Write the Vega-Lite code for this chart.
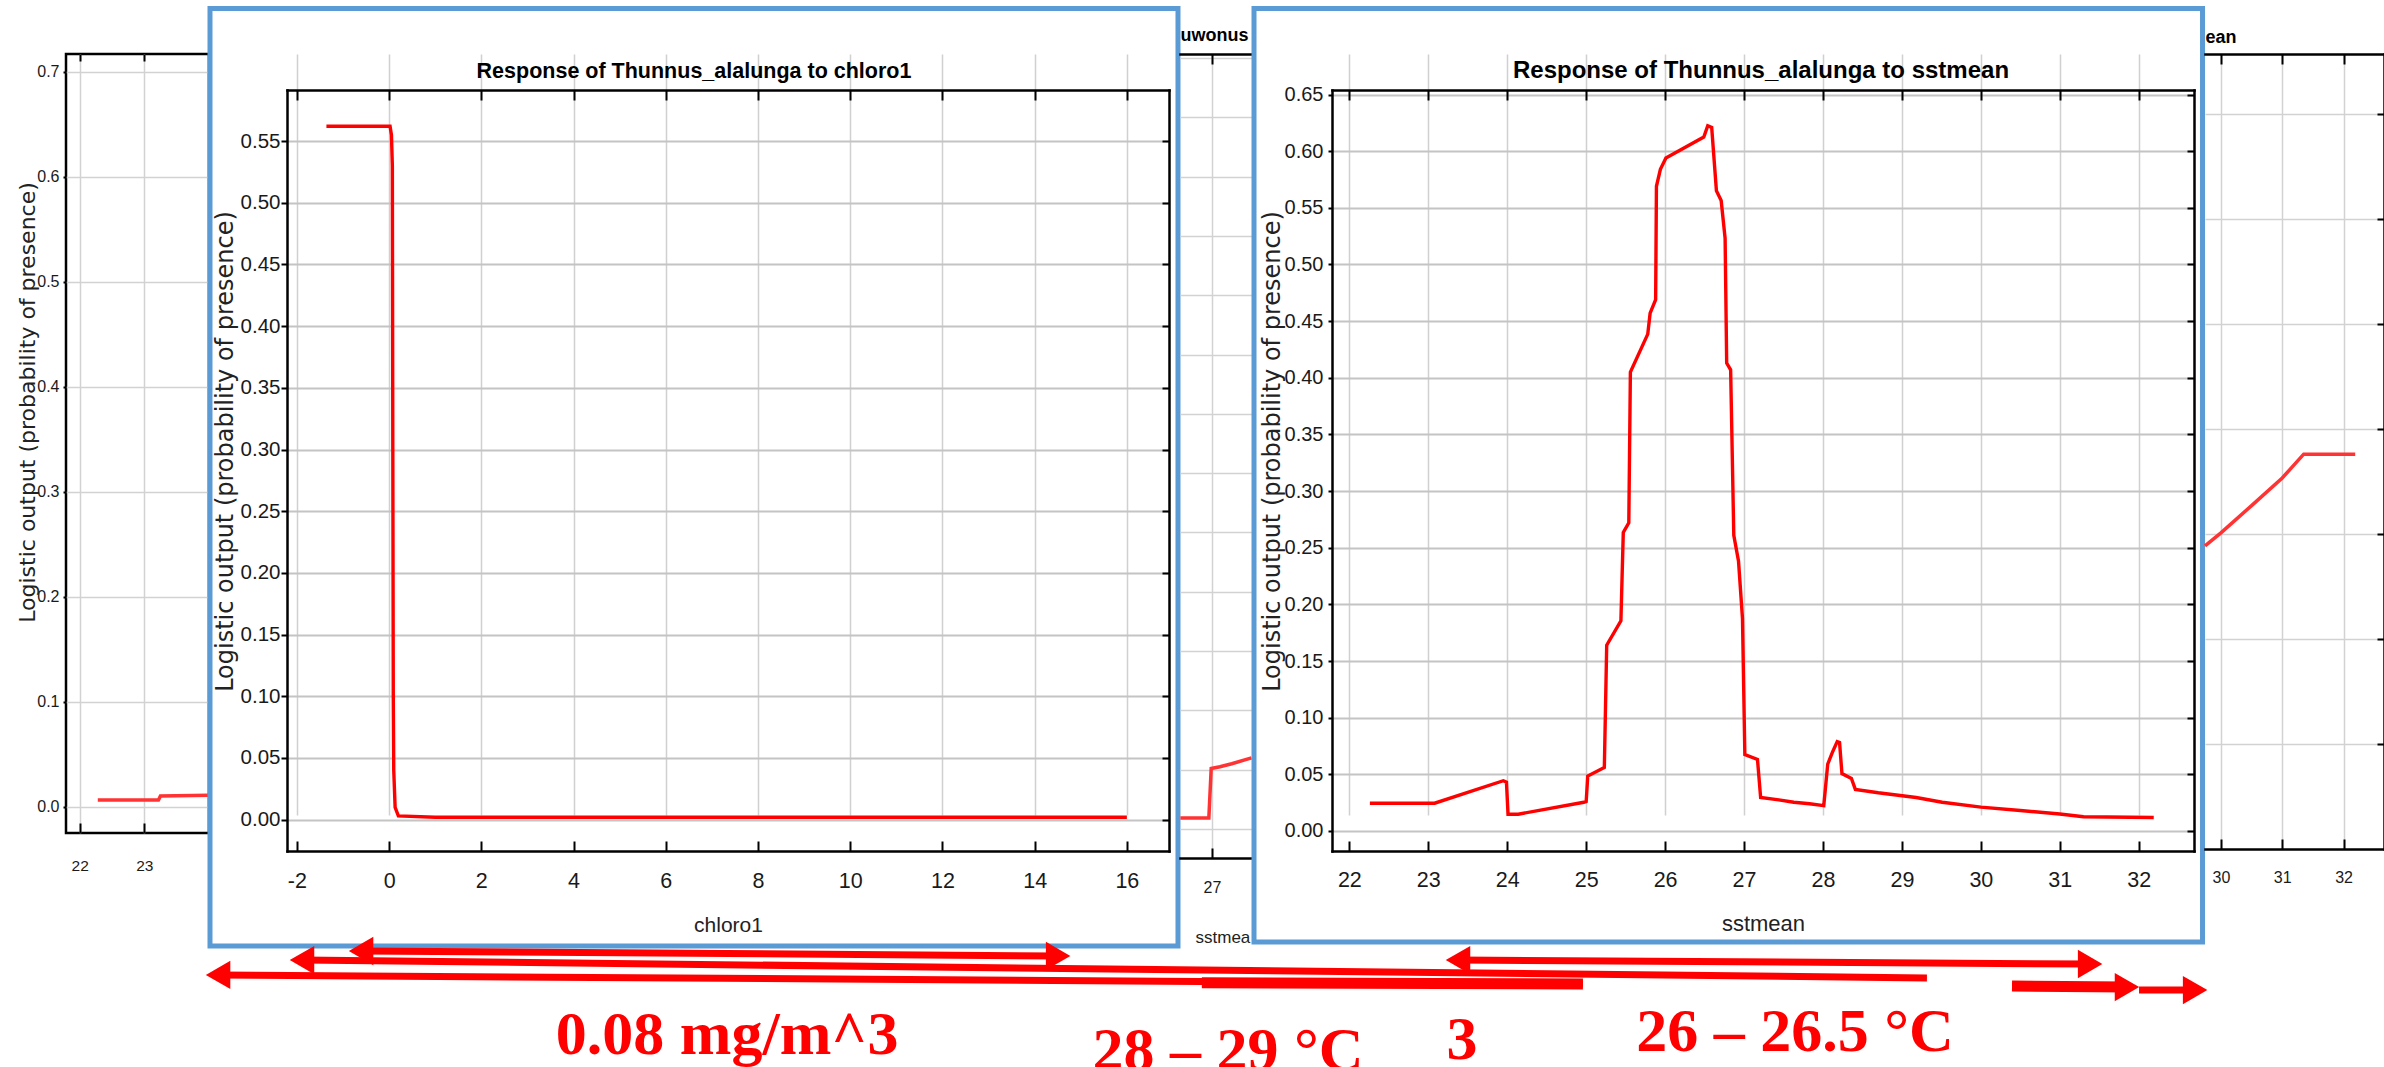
{
  "$schema": "https://vega.github.io/schema/vega-lite/v6.json",
  "background": "white",
  "padding": {"left": 14, "top": 5, "right": 0, "bottom": 0},
  "columns": 9,
  "align": "each",
  "bounds": "flush",
  "spacing": {"row": 73, "column": 0},
  "config": {
    "view": {"stroke": "#000000", "strokeWidth": 2.5},
    "axis": {
      "labelColor": "#1a1a1a", "titleColor": "#222222", "tickColor": "#000000", "tickWidth": 2,
      "domainColor": "#000000", "domainWidth": 2.5, "domainCap": "square",
      "labelFont": "Liberation Sans", "titleFont": "Liberation Sans",
      "labelOverlap": false, "labelFlush": false, "gridColor": "#cccccc"
    }
  },
  "datasets": {
    "leftBG": [
      {"x": 22.28, "y": 0.0067}, {"x": 23.22, "y": 0.0067}, {"x": 23.25, "y": 0.0105}, {"x": 24.0, "y": 0.0112}
    ],
    "chloro": [
      {"x": -1.36, "y": 0.562}, {"x": 0.02, "y": 0.562}, {"x": 0.05, "y": 0.555}, {"x": 0.07, "y": 0.53},
      {"x": 0.08, "y": 0.3}, {"x": 0.09, "y": 0.1}, {"x": 0.1, "y": 0.04}, {"x": 0.13, "y": 0.01},
      {"x": 0.2, "y": 0.003}, {"x": 1, "y": 0.002}, {"x": 16, "y": 0.002}
    ],
    "middleBG": [
      {"x": 26.6, "y": 0.0093}, {"x": 26.96, "y": 0.0093}, {"x": 26.99, "y": 0.051}, {"x": 27.1, "y": 0.0525},
      {"x": 27.25, "y": 0.055}, {"x": 27.5, "y": 0.0599}
    ],
    "sst": [
      {"x": 22.26, "y": 0.0245}, {"x": 23.08, "y": 0.0245}, {"x": 23.95, "y": 0.0443}, {"x": 23.99, "y": 0.043},
      {"x": 24.01, "y": 0.0148}, {"x": 24.14, "y": 0.0148}, {"x": 24.97, "y": 0.0253}, {"x": 25.0, "y": 0.026},
      {"x": 25.02, "y": 0.0485}, {"x": 25.23, "y": 0.056}, {"x": 25.26, "y": 0.164}, {"x": 25.44, "y": 0.1855},
      {"x": 25.47, "y": 0.2635}, {"x": 25.54, "y": 0.272}, {"x": 25.56, "y": 0.405}, {"x": 25.78, "y": 0.4385},
      {"x": 25.81, "y": 0.457}, {"x": 25.88, "y": 0.469}, {"x": 25.89, "y": 0.569}, {"x": 25.94, "y": 0.584},
      {"x": 26.01, "y": 0.594}, {"x": 26.49, "y": 0.6125}, {"x": 26.54, "y": 0.6225}, {"x": 26.59, "y": 0.621},
      {"x": 26.65, "y": 0.565}, {"x": 26.71, "y": 0.5565}, {"x": 26.76, "y": 0.523}, {"x": 26.78, "y": 0.413},
      {"x": 26.83, "y": 0.407}, {"x": 26.87, "y": 0.261}, {"x": 26.93, "y": 0.238}, {"x": 26.98, "y": 0.1876},
      {"x": 27.01, "y": 0.0675}, {"x": 27.17, "y": 0.0632}, {"x": 27.21, "y": 0.0295}, {"x": 27.44, "y": 0.0274},
      {"x": 27.63, "y": 0.0253}, {"x": 27.83, "y": 0.024}, {"x": 28.01, "y": 0.0223}, {"x": 28.06, "y": 0.059},
      {"x": 28.12, "y": 0.0696}, {"x": 28.18, "y": 0.0788}, {"x": 28.21, "y": 0.078}, {"x": 28.24, "y": 0.0506},
      {"x": 28.36, "y": 0.0464}, {"x": 28.41, "y": 0.0367}, {"x": 28.7, "y": 0.0337}, {"x": 29.18, "y": 0.0295},
      {"x": 29.51, "y": 0.0253}, {"x": 30.0, "y": 0.021}, {"x": 30.5, "y": 0.018}, {"x": 31.0, "y": 0.015},
      {"x": 31.3, "y": 0.0125}, {"x": 32.19, "y": 0.0119}
    ],
    "rightBG": [
      {"x": 29.74, "y": 0.2886}, {"x": 30.0, "y": 0.301}, {"x": 30.5, "y": 0.327}, {"x": 31.0, "y": 0.3533},
      {"x": 31.35, "y": 0.376}, {"x": 32.19, "y": 0.376}
    ],
    "arrowLines": [
      {"arrow": "A", "x": 12.73, "y": 8.54, "x2": 42.8, "y2": 8.18},
      {"arrow": "B", "x": 10.18, "y": 7.88, "x2": 80.28, "y2": 6.57},
      {"arrow": "C", "x": 6.56, "y": 6.79, "x2": 65.44, "y2": 6.13},
      {"arrow": "D", "x": 60.05, "y": 7.88, "x2": 87.32, "y2": 7.59},
      {"arrow": "F", "x": 89.43, "y": 5.69, "x2": 91.85, "y2": 5.69}
    ],
    "arrowBars": [
      {"arrow": "C", "x": 49.0, "y": 6.22, "x2": 65.44, "y2": 6.13},
      {"arrow": "E", "x": 83.95, "y": 5.99, "x2": 88.91, "y2": 5.91}
    ],
    "arrowHeads": [
      {"arrow": "A", "x": 12.73, "y": 8.54, "dir": "left"},
      {"arrow": "A", "x": 42.8, "y": 8.18, "dir": "right"},
      {"arrow": "B", "x": 10.18, "y": 7.88, "dir": "left"},
      {"arrow": "C", "x": 6.56, "y": 6.79, "dir": "left"},
      {"arrow": "D", "x": 60.05, "y": 7.88, "dir": "left"},
      {"arrow": "D", "x": 87.32, "y": 7.59, "dir": "right"},
      {"arrow": "E", "x": 88.91, "y": 5.91, "dir": "right"},
      {"arrow": "F", "x": 91.85, "y": 5.69, "dir": "right"}
    ],
    "notes": [
      {"label": "0.08 mg/m^3", "x": 28.52, "y": 1.02},
      {"label": "28 – 29 °C", "x": 50.13, "y": -0.15},
      {"label": "3", "x": 60.22, "y": 0.66},
      {"label": "26 – 26.5 °C", "x": 74.59, "y": 1.24}
    ]
  },
  "concat": [
    {
      "width": 143,
      "height": 779,
      "data": {"name": "leftBG"},
      "resolve": {"axis": {"x": "independent", "y": "independent"}},
      "layer": [
        {
          "mark": {"type": "line", "color": "#ff3333", "strokeWidth": 3.5},
          "encoding": {
            "x": {"field": "x", "type": "quantitative", "scale": {"domain": [21.788, 24.002], "nice": false, "zero": false},
              "axis": {"values": [22, 23], "title": null, "labelFontSize": 15.5, "labelPadding": 35, "tickSize": -10, "grid": true, "gridColor": "#d2d2d2", "gridWidth": 1.5, "domain": false}},
            "y": {"field": "y", "type": "quantitative", "scale": {"domain": [-0.0248, 0.7171], "nice": false, "zero": false},
              "axis": {"values": [0, 0.1, 0.2, 0.3, 0.4, 0.5, 0.6, 0.7], "format": ".1f", "title": "Logistic output (probability of presence)",
                "titleFont": "DejaVu Sans", "titleFontSize": 22, "titleFontWeight": "normal", "titleAngle": 270, "titleX": -39, "titleY": 348,
                "titleAlign": "center", "titleBaseline": "middle", "labelFontSize": 16, "labelPadding": 4, "tickSize": 3,
                "grid": true, "gridColor": "#d2d2d2", "gridWidth": 1.5, "domain": false}}
          }
        },
        {
          "mark": {"type": "line", "opacity": 0},
          "encoding": {
            "x": {"field": "x", "type": "quantitative", "scale": {"domain": [21.788, 24.002], "nice": false, "zero": false},
              "axis": {"orient": "top", "values": [22, 23], "labels": false, "grid": false, "domain": false, "tickSize": -7, "title": null}},
            "y": {"field": "y", "type": "quantitative", "scale": {"domain": [-0.0248, 0.7171], "nice": false, "zero": false}, "axis": null}
          }
        }
      ]
    },
    {"width": 78, "height": 1, "data": {"values": [{"gap": 1}]}, "mark": {"type": "point", "opacity": 0}, "view": {"stroke": null}},
    {
      "width": 882,
      "height": 797,
      "view": {"stroke": null},
      "resolve": {"axis": {"x": "independent", "y": "independent"}},
      "layer": [
        {
          "data": {"values": [{"frame": "chloro1"}]},
          "mark": {"type": "rect", "filled": false, "stroke": "#5b9bd5", "strokeWidth": 5},
          "encoding": {
            "x": {"datum": -3.885, "type": "quantitative", "scale": {"domain": [-2.215, 16.914], "nice": false, "zero": false}, "axis": null},
            "x2": {"datum": 17.109},
            "y": {"datum": 0.6575, "type": "quantitative", "scale": {"domain": [-0.0254, 0.5914], "range": [797, 36], "nice": false, "zero": false}, "axis": null},
            "y2": {"datum": -0.1024}
          }
        },
        {
          "data": {"name": "chloro"},
          "mark": {"type": "line", "color": "#ff0000", "strokeWidth": 3.4},
          "encoding": {
            "x": {"field": "x", "type": "quantitative", "scale": {"domain": [-2.215, 16.914], "nice": false, "zero": false},
              "axis": {"values": [-2, 0, 2, 4, 6, 8, 10, 12, 14, 16], "labelExpr": "datum.value < 0 ? '-' + format(-datum.value, 'd') : datum.label",
                "title": "chloro1", "titleFontSize": 21, "titleFontWeight": "normal", "titleY": 80, "titleBaseline": "alphabetic", "titleAngle": 0,
                "labelFontSize": 21.5, "labelPadding": 29, "tickSize": -10, "grid": true, "gridColor": "#d0d0d0", "gridWidth": 1.5, "domain": true}},
            "y": {"field": "y", "type": "quantitative", "scale": {"domain": [-0.0254, 0.5914], "range": [797, 36], "nice": false, "zero": false},
              "axis": {"values": [0, 0.05, 0.1, 0.15, 0.2, 0.25, 0.3, 0.35, 0.4, 0.45, 0.5, 0.55], "format": ".2f",
                "title": "Logistic output (probability of presence)", "titleFont": "DejaVu Sans", "titleFontSize": 24, "titleFontWeight": "normal",
                "titleAngle": 270, "titleX": -62, "titleY": 397, "titleAlign": "center", "titleBaseline": "middle",
                "labelFontSize": 20.5, "labelPadding": 1, "tickSize": 6, "grid": true, "gridColor": "#c4c4c4", "gridWidth": 2.2, "domain": true}}
          }
        },
        {
          "data": {"name": "chloro"},
          "mark": {"type": "line", "opacity": 0},
          "encoding": {
            "x": {"field": "x", "type": "quantitative", "scale": {"domain": [-2.215, 16.914], "nice": false, "zero": false},
              "axis": {"orient": "top", "offset": -36, "values": [-2, 0, 2, 4, 6, 8, 10, 12, 14, 16], "labels": false, "grid": false, "domain": true, "tickSize": -10,
                "title": "Response of Thunnus_alalunga to chloro1", "titleFontSize": 21.5, "titleFontWeight": "bold", "titleColor": "#000000",
                "titleX": 406.5, "titleY": -13, "titleAlign": "center", "titleBaseline": "alphabetic", "titleAngle": 0}},
            "y": {"field": "y", "type": "quantitative", "scale": {"domain": [-0.0254, 0.5914], "range": [797, 36], "nice": false, "zero": false},
              "axis": {"orient": "right", "values": [0, 0.05, 0.1, 0.15, 0.2, 0.25, 0.3, 0.35, 0.4, 0.45, 0.5, 0.55], "labels": false, "grid": false, "domain": true, "tickSize": -7, "title": null}}
          }
        }
      ]
    },
    {"width": 11, "height": 1, "data": {"values": [{"gap": 2}]}, "mark": {"type": "point", "opacity": 0}, "view": {"stroke": null}},
    {
      "width": 73,
      "height": 804,
      "view": {"stroke": null},
      "data": {"name": "middleBG"},
      "resolve": {"axis": {"x": "independent", "y": "independent"}},
      "layer": [
        {
          "mark": {"type": "line", "color": "#ff3333", "strokeWidth": 3.5},
          "encoding": {
            "x": {"field": "x", "type": "quantitative", "scale": {"domain": [26.595, 27.519], "nice": false, "zero": false},
              "axis": {"values": [27], "title": "sstmea", "titleFontSize": 17, "titleFontWeight": "normal", "titleX": 15, "titleY": 84,
                "titleAlign": "left", "titleBaseline": "alphabetic", "titleAngle": 0, "labelFontSize": 16, "labelPadding": 31, "tickSize": -10,
                "grid": true, "gridColor": "#d2d2d2", "gridWidth": 1.5, "domain": true}},
            "y": {"field": "y", "type": "quantitative", "scale": {"domain": [-0.0245, 0.6535], "nice": false, "zero": false},
              "axis": {"values": [0, 0.05, 0.1, 0.15, 0.2, 0.25, 0.3, 0.35, 0.4, 0.45, 0.5, 0.55, 0.6, 0.65], "labels": false, "ticks": false, "domain": false,
                "grid": true, "gridColor": "#d2d2d2", "gridWidth": 1.5, "title": null}}
          }
        },
        {
          "mark": {"type": "line", "opacity": 0},
          "encoding": {
            "x": {"field": "x", "type": "quantitative", "scale": {"domain": [26.595, 27.519], "nice": false, "zero": false},
              "axis": {"orient": "top", "values": [27], "labels": false, "grid": false, "domain": true, "tickSize": -10,
                "title": "uwonus", "titleFontSize": 18, "titleFontWeight": "bold", "titleColor": "#000000", "titleX": 0, "titleY": -14,
                "titleAlign": "left", "titleBaseline": "alphabetic", "titleAngle": 0}},
            "y": {"field": "y", "type": "quantitative", "scale": {"domain": [-0.0245, 0.6535], "nice": false, "zero": false}, "axis": null}
          }
        }
      ]
    },
    {"width": 79, "height": 1, "data": {"values": [{"gap": 3}]}, "mark": {"type": "point", "opacity": 0}, "view": {"stroke": null}},
    {
      "width": 862,
      "height": 797,
      "view": {"stroke": null},
      "resolve": {"axis": {"x": "independent", "y": "independent"}},
      "layer": [
        {
          "data": {"values": [{"frame": "sstmean"}]},
          "mark": {"type": "rect", "filled": false, "stroke": "#5b9bd5", "strokeWidth": 5},
          "encoding": {
            "x": {"datum": 20.792, "type": "quantitative", "scale": {"domain": [21.78, 32.7], "nice": false, "zero": false}, "axis": null},
            "x2": {"datum": 32.808},
            "y": {"datum": 0.7259, "type": "quantitative", "scale": {"domain": [-0.0177, 0.654], "range": [797, 36], "nice": false, "zero": false}, "axis": null},
            "y2": {"datum": -0.098}
          }
        },
        {
          "data": {"name": "sst"},
          "mark": {"type": "line", "color": "#ff0000", "strokeWidth": 3.4},
          "encoding": {
            "x": {"field": "x", "type": "quantitative", "scale": {"domain": [21.78, 32.7], "nice": false, "zero": false},
              "axis": {"values": [22, 23, 24, 25, 26, 27, 28, 29, 30, 31, 32], "title": "sstmean", "titleFontSize": 22, "titleFontWeight": "normal",
                "titleY": 79, "titleBaseline": "alphabetic", "titleAngle": 0, "labelFontSize": 21.5, "labelPadding": 28, "tickSize": -10,
                "grid": true, "gridColor": "#d0d0d0", "gridWidth": 1.5, "domain": true}},
            "y": {"field": "y", "type": "quantitative", "scale": {"domain": [-0.0177, 0.654], "range": [797, 36], "nice": false, "zero": false},
              "axis": {"values": [0, 0.05, 0.1, 0.15, 0.2, 0.25, 0.3, 0.35, 0.4, 0.45, 0.5, 0.55, 0.6, 0.65], "format": ".2f",
                "title": "Logistic output (probability of presence)", "titleFont": "DejaVu Sans", "titleFontSize": 24, "titleFontWeight": "normal",
                "titleAngle": 270, "titleX": -60, "titleY": 397, "titleAlign": "center", "titleBaseline": "middle",
                "labelFontSize": 20, "labelPadding": 5, "tickSize": 4, "grid": true, "gridColor": "#c4c4c4", "gridWidth": 2.2, "domain": true}}
          }
        },
        {
          "data": {"name": "sst"},
          "mark": {"type": "line", "opacity": 0},
          "encoding": {
            "x": {"field": "x", "type": "quantitative", "scale": {"domain": [21.78, 32.7], "nice": false, "zero": false},
              "axis": {"orient": "top", "offset": -36, "values": [22, 23, 24, 25, 26, 27, 28, 29, 30, 31, 32], "labels": false, "grid": false, "domain": true, "tickSize": -10,
                "title": "Response of Thunnus_alalunga to sstmean", "titleFontSize": 24, "titleFontWeight": "bold", "titleColor": "#000000",
                "titleX": 428.5, "titleY": -13, "titleAlign": "center", "titleBaseline": "alphabetic", "titleAngle": 0}},
            "y": {"field": "y", "type": "quantitative", "scale": {"domain": [-0.0177, 0.654], "range": [797, 36], "nice": false, "zero": false},
              "axis": {"orient": "right", "values": [0, 0.05, 0.1, 0.15, 0.2, 0.25, 0.3, 0.35, 0.4, 0.45, 0.5, 0.55, 0.6, 0.65], "labels": false, "grid": false, "domain": true, "tickSize": -7, "title": null}}
          }
        }
      ]
    },
    {"width": 11, "height": 1, "data": {"values": [{"gap": 4}]}, "mark": {"type": "point", "opacity": 0}, "view": {"stroke": null}},
    {
      "width": 179,
      "height": 795,
      "view": {"stroke": null},
      "data": {"name": "rightBG"},
      "resolve": {"axis": {"x": "independent", "y": "independent"}},
      "layer": [
        {
          "mark": {"type": "line", "color": "#ff3333", "strokeWidth": 3.5},
          "encoding": {
            "x": {"field": "x", "type": "quantitative", "scale": {"domain": [29.74, 32.66], "nice": false, "zero": false},
              "axis": {"values": [30, 31, 32], "title": null, "labelFontSize": 16, "labelPadding": 30, "tickSize": -10,
                "grid": true, "gridColor": "#d2d2d2", "gridWidth": 1.5, "domain": true}},
            "y": {"field": "y", "type": "quantitative", "scale": {"domain": [0, 0.757], "nice": false, "zero": false},
              "axis": {"values": [0.1, 0.2, 0.3, 0.4, 0.5, 0.6, 0.7], "labels": false, "ticks": false, "domain": false,
                "grid": true, "gridColor": "#d2d2d2", "gridWidth": 1.5, "title": null}}
          }
        },
        {
          "mark": {"type": "line", "opacity": 0},
          "encoding": {
            "x": {"field": "x", "type": "quantitative", "scale": {"domain": [29.74, 32.66], "nice": false, "zero": false},
              "axis": {"orient": "top", "values": [30, 31, 32], "labels": false, "grid": false, "domain": true, "tickSize": -10,
                "title": "ean", "titleFontSize": 18, "titleFontWeight": "bold", "titleColor": "#000000", "titleX": 0, "titleY": -12,
                "titleAlign": "left", "titleBaseline": "alphabetic", "titleAngle": 0}},
            "y": {"field": "y", "type": "quantitative", "scale": {"domain": [0, 0.757], "nice": false, "zero": false},
              "axis": {"orient": "right", "values": [0.1, 0.2, 0.3, 0.4, 0.5, 0.6, 0.7], "labels": false, "grid": false, "domain": true, "tickSize": -7, "title": null}}
          }
        }
      ]
    },
    {
      "width": 143,
      "height": 137,
      "view": {"stroke": null},
      "layer": [
        {
          "data": {"name": "arrowLines"},
          "mark": {"type": "rule", "color": "#ff0000", "strokeWidth": 7},
          "encoding": {
            "x": {"field": "x", "type": "quantitative", "scale": {"domain": [0, 6.169], "nice": false, "zero": false}, "axis": null},
            "x2": {"field": "x2"},
            "y": {"field": "y", "type": "quantitative", "scale": {"domain": [0, 10], "nice": false, "zero": false}, "axis": null},
            "y2": {"field": "y2"}
          }
        },
        {
          "data": {"name": "arrowBars"},
          "mark": {"type": "rule", "color": "#ff0000", "strokeWidth": 11},
          "encoding": {
            "x": {"field": "x", "type": "quantitative", "scale": {"domain": [0, 6.169], "nice": false, "zero": false}, "axis": null},
            "x2": {"field": "x2"},
            "y": {"field": "y", "type": "quantitative", "scale": {"domain": [0, 10], "nice": false, "zero": false}, "axis": null},
            "y2": {"field": "y2"}
          }
        },
        {
          "data": {"name": "arrowHeads"},
          "mark": {"type": "point", "filled": true, "color": "#ff0000", "size": 800, "opacity": 1},
          "encoding": {
            "x": {"field": "x", "type": "quantitative", "scale": {"domain": [0, 6.169], "nice": false, "zero": false}, "axis": null},
            "y": {"field": "y", "type": "quantitative", "scale": {"domain": [0, 10], "nice": false, "zero": false}, "axis": null},
            "shape": {"field": "dir", "type": "nominal", "scale": {"domain": ["left", "right"], "range": ["triangle-left", "triangle-right"]}, "legend": null}
          }
        },
        {
          "data": {"name": "notes"},
          "mark": {"type": "text", "font": "Liberation Serif", "fontWeight": "bold", "fontSize": 62, "color": "#ff0000", "baseline": "alphabetic", "align": "center"},
          "encoding": {
            "x": {"field": "x", "type": "quantitative", "scale": {"domain": [0, 6.169], "nice": false, "zero": false}, "axis": null},
            "y": {"field": "y", "type": "quantitative", "scale": {"domain": [0, 10], "nice": false, "zero": false}, "axis": null},
            "text": {"field": "label"}
          }
        }
      ]
    }
  ]
}
